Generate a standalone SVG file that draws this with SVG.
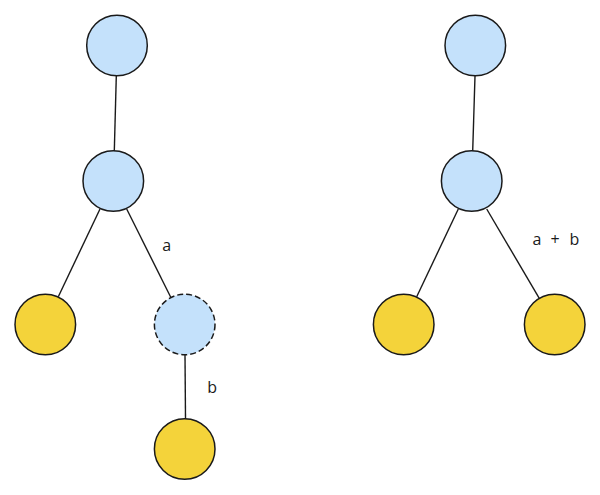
<svg xmlns="http://www.w3.org/2000/svg" width="600" height="495" viewBox="0 0 600 495">
<style>
.blue{fill:#C4E1FB;stroke:#1a1a1a;stroke-width:1.5}
.yellow{fill:#F4D33A;stroke:#1a1a1a;stroke-width:1.5}
.dashed{stroke-dasharray:6 3}
.edge{stroke:#1a1a1a;stroke-width:1.4;fill:none}
.lbl{font-family:"Open Sans","Noto Sans",sans-serif;font-size:16px;fill:#1a1a1a}
</style>
<rect width="600" height="495" fill="#ffffff"/>
<g id="connectors">
<line class="edge" x1="116.3" y1="76" x2="114.3" y2="151"/>
<line class="edge" x1="100" y1="209" x2="58.3" y2="296.7"/>
<line class="edge" x1="126.7" y1="209" x2="171" y2="297.7"/>
<line class="edge" x1="185" y1="355" x2="185.5" y2="419"/>
<line class="edge" x1="475" y1="76" x2="472.7" y2="151"/>
<line class="edge" x1="458.3" y1="209" x2="416.7" y2="296.7"/>
<line class="edge" x1="486.7" y1="209" x2="539.3" y2="298.3"/>
</g>
<g id="labels">
<text class="lbl" x="162.3" y="250.8">a</text>
<text class="lbl" x="207.3" y="393.3">b</text>
<text class="lbl" y="244.5"><tspan x="532.5">a</tspan><tspan x="550.5">+</tspan><tspan x="569.5">b</tspan></text>
</g>
<g id="L-root"><circle class="blue" cx="117" cy="45.5" r="30.3"/></g>
<g id="L-mid"><circle class="blue" cx="113.3" cy="181" r="30.3"/></g>
<g id="L-leaf-left"><circle class="yellow" cx="45.3" cy="324.5" r="30.3"/></g>
<g id="L-dashed"><circle class="blue dashed" cx="184.7" cy="324.5" r="30.3"/></g>
<g id="L-leaf-bottom"><circle class="yellow" cx="184.7" cy="449" r="30.3"/></g>
<g id="R-root"><circle class="blue" cx="475.3" cy="45.5" r="30.3"/></g>
<g id="R-mid"><circle class="blue" cx="471.7" cy="181" r="30.3"/></g>
<g id="R-leaf-left"><circle class="yellow" cx="403.7" cy="324.5" r="30.3"/></g>
<g id="R-leaf-right"><circle class="yellow" cx="554.7" cy="324.5" r="30.3"/></g>
</svg>
